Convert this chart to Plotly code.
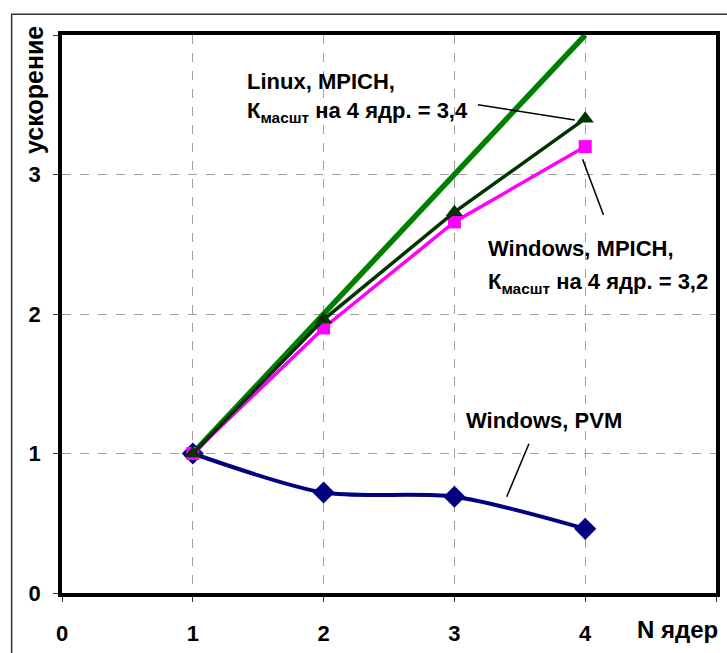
import plotly.graph_objects as go

# Number of cores and measured speedups
cores = [1, 2, 3, 4]
ideal = [1, 2, 3, 4]
linux_mpich = [1.0, 1.96, 2.73, 3.4]
windows_mpich = [1.0, 1.9, 2.66, 3.2]
windows_pvm = [1.0, 0.72, 0.69, 0.46]

x_ticks = [0, 1, 2, 3, 4]
x_labels = ["<b>0</b>", "<b>1</b>", "<b>2</b>", "<b>3</b>", "<b>4</b>"]
y_ticks = [0, 1, 2, 3]
y_labels = ["<b>0</b>", "<b>1</b>", "<b>2</b>", "<b>3</b>"]

FONT = "Liberation Sans, Arial, sans-serif"


def fmt(v):
    return f"{v:.1f}".replace(".", ",")


fig = go.Figure()

fig.add_trace(go.Scatter(
    x=cores, y=ideal, mode="lines",
    line=dict(color="#008000", width=5.5), showlegend=False,
))
fig.add_trace(go.Scatter(
    x=cores, y=windows_pvm, mode="lines+markers",
    line=dict(color="#000080", width=4, shape="spline", smoothing=0.8),
    marker=dict(symbol="diamond", size=17, color="#000080"),
    showlegend=False,
))
fig.add_trace(go.Scatter(
    x=cores, y=windows_mpich, mode="lines+markers",
    line=dict(color="#FF00FF", width=3.5),
    marker=dict(symbol="square", size=13, color="#FF00FF"),
    showlegend=False,
))
fig.add_trace(go.Scatter(
    x=cores, y=linux_mpich, mode="lines+markers",
    line=dict(color="#003300", width=3.5),
    marker=dict(symbol="triangle-up", size=15, color="#003300"),
    showlegend=False,
))

axis_common = dict(
    showline=True, linecolor="black", linewidth=3.5, mirror=True,
    ticks="outside", ticklen=5, tickcolor="#333", tickwidth=1,
    showgrid=True, gridcolor="#a0a0a0", griddash="dash", gridwidth=1,
    zeroline=False,
    tickfont=dict(family=FONT, size=22, color="black"),
    # unlabelled tick marks at the far ends of both axes
    minor=dict(tickmode="linear", tick0=0, dtick=1, ticks="outside",
               ticklen=5, tickcolor="#333", tickwidth=1, showgrid=False),
)

fig.update_xaxes(range=[0, 5], tickmode="array", tickvals=x_ticks,
                 ticktext=x_labels, ticklabelstandoff=13, **axis_common)
fig.update_yaxes(range=[0, 4], tickmode="array", tickvals=y_ticks,
                 ticktext=y_labels, ticklabelstandoff=8, **axis_common)

label_font = dict(family=FONT, size=22, color="black")


def text(x, y, s, **kw):
    fig.add_annotation(x=x, y=y, xref="x", yref="y", text=f"<b>{s}</b>",
                       showarrow=False, xanchor="left", yanchor="middle",
                       font=label_font, **kw)


sub = "<sub>масшт</sub>"
text(1.40, 3.67, "Linux, MPICH,")
text(1.40, 3.45, f"К{sub} на 4 ядр. = {fmt(linux_mpich[-1])}")
text(3.24, 2.47, "Windows, MPICH,")
text(3.24, 2.22, f"К{sub} на 4 ядр. = {fmt(windows_mpich[-1])}")
text(3.07, 1.24, "Windows, PVM")

# Axis captions, placed in paper coordinates outside the plot area
fig.add_annotation(x=-0.044, y=0.902, xref="paper", yref="paper",
                   text="<b>ускорение</b>", textangle=-90, showarrow=False,
                   xanchor="center", yanchor="middle",
                   font=dict(family=FONT, size=25, color="black"))
fig.add_annotation(x=0.941, y=-0.066, xref="paper", yref="paper",
                   text="<b>N ядер</b>", showarrow=False,
                   xanchor="center", yanchor="middle",
                   font=dict(family=FONT, size=24, color="black"))

# Leader lines from captions to series
leaders = [
    (3.18, 3.50, 3.92, 3.39),
    (3.98, 3.11, 4.14, 2.71),
    (3.57, 1.07, 3.40, 0.69),
]
for x0, y0, x1, y1 in leaders:
    fig.add_shape(type="line", xref="x", yref="y", x0=x0, y0=y0, x1=x1, y1=y1,
                  line=dict(color="black", width=1.5))

# Outer chart border
fig.add_shape(type="rect", xref="paper", yref="paper",
              x0=-0.077, y0=-0.3, x1=1.2, y1=1.037,
              line=dict(color="#333", width=1.5), layer="below")

fig.update_layout(
    width=727, height=653,
    margin=dict(l=62, r=7, t=35, b=55),
    paper_bgcolor="white", plot_bgcolor="white",
    showlegend=False,
)

fig.write_html("out.html")
